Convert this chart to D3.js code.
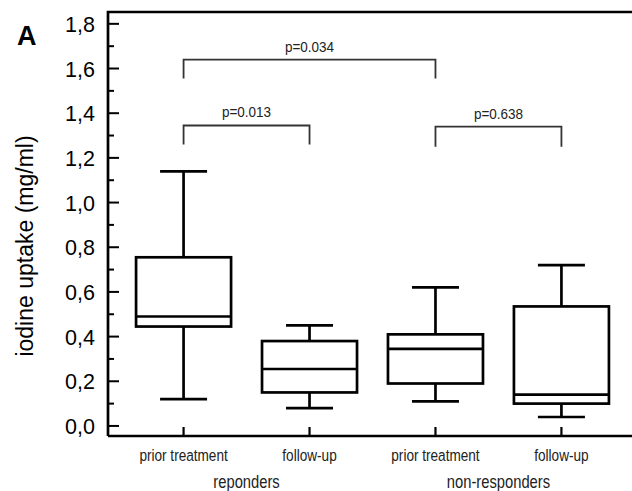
<!DOCTYPE html>
<html>
<head>
<meta charset="utf-8">
<script src="https://cdn.jsdelivr.net/npm/d3@7"></script>
<style>
  body { margin: 0; background: #fff; }
  svg { display: block; font-family: Arial, "Liberation Sans", sans-serif; }
</style>
</head>
<body>
<svg width="632" height="491"></svg>
<script>
// box plot data
let categories = ["prior treatment", "follow-up", "prior treatment", "follow-up"];
let groups = ["reponders", "non-responders"];
let whiskerLow = [0.12, 0.08, 0.11, 0.04];
let q1 = [0.445, 0.15, 0.19, 0.10];
let median = [0.49, 0.255, 0.345, 0.14];
let q3 = [0.755, 0.38, 0.41, 0.535];
let whiskerHigh = [1.14, 0.45, 0.62, 0.72];

let yTicks = [0, 0.2, 0.4, 0.6, 0.8, 1.0, 1.2, 1.4, 1.6, 1.8];

// significance brackets: from box, to box, height, drop, label
let brackets = [
  { from: 0, to: 2, y: 1.64, drop: 1.555, label: "p=0.034" },
  { from: 0, to: 1, y: 1.345, drop: 1.26, label: "p=0.013" },
  { from: 2, to: 3, y: 1.34, drop: 1.25, label: "p=0.638" }
];

let svg = d3.select("svg");
let mLeft = 108, mRight = 637, mTop = 12, mBottom = 436;

let xScale = d3.scaleLinear().domain([-0.6, 3.6]).range([mLeft, mRight]);
let yScale = d3.scaleLinear().domain([-0.045, 1.853]).range([mBottom, mTop]);

let boxW = 95, capW = 47;

// condensed text: regular font squeezed horizontally
function narrowText(sel, x, y, size, sx) {
  sel.append("g")
    .attr("transform", (d, i) => `translate(${x(d, i)},${y(d, i)}) scale(${sx},1)`)
    .append("text")
    .attr("text-anchor", "middle").attr("font-size", size)
    .attr("fill", "#222")
    .text(d => d.label || d);
}

// frame
svg.append("path")
  .attr("d", `M${mLeft},${mBottom}H${mRight}M${mLeft},${mBottom}V${mTop}H${mRight}`)
  .attr("fill", "none").attr("stroke", "#000").attr("stroke-width", 2.7);

// y ticks (inward) with minor ticks
let minor = d3.range(0, 19).map(d => d / 10);
svg.selectAll(".minor").data(minor).enter().append("line")
  .attr("x1", mLeft).attr("x2", d => Math.round(d * 10) % 2 === 0 ? mLeft + 11 : mLeft + 6)
  .attr("y1", d => yScale(d)).attr("y2", d => yScale(d))
  .attr("stroke", "#000").attr("stroke-width", 2);

svg.selectAll(".ylab").data(yTicks).enter().append("text")
  .attr("x", 95).attr("y", d => yScale(d) + 8)
  .attr("text-anchor", "end").attr("font-size", 21.5)
  .text(d => d3.format(".1f")(d).replace(".", ","));

// x ticks (inward)
svg.selectAll(".xtick").data(categories).enter().append("line")
  .attr("x1", (d, i) => xScale(i)).attr("x2", (d, i) => xScale(i))
  .attr("y1", mBottom).attr("y2", mBottom - 9)
  .attr("stroke", "#000").attr("stroke-width", 2.2);

narrowText(svg.selectAll(".xlab").data(categories).enter(),
  (d, i) => xScale(i), () => 461, 17, 0.8);

narrowText(svg.selectAll(".glab").data(groups).enter(),
  (d, i) => (xScale(2 * i) + xScale(2 * i + 1)) / 2, () => 488, 18, 0.82);

// y title and panel letter
svg.append("text")
  .attr("transform", `translate(33,${246}) rotate(-90)`)
  .attr("text-anchor", "middle").attr("font-size", 23)
  .text("iodine uptake (mg/ml)");

svg.append("text")
  .attr("x", 17).attr("y", 45)
  .attr("font-size", 27).attr("font-weight", "bold")
  .text("A");

// boxes
let boxes = svg.selectAll(".box").data(categories).enter().append("g")
  .attr("stroke", "#000").attr("stroke-width", 2.7).attr("fill", "none");

boxes.append("line")
  .attr("x1", (d, i) => xScale(i)).attr("x2", (d, i) => xScale(i))
  .attr("y1", (d, i) => yScale(whiskerLow[i])).attr("y2", (d, i) => yScale(whiskerHigh[i]));

boxes.append("rect")
  .attr("x", (d, i) => xScale(i) - boxW / 2).attr("width", boxW)
  .attr("y", (d, i) => yScale(q3[i]))
  .attr("height", (d, i) => yScale(q1[i]) - yScale(q3[i]))
  .attr("fill", "#fff");

boxes.append("line")
  .attr("x1", (d, i) => xScale(i) - boxW / 2).attr("x2", (d, i) => xScale(i) + boxW / 2)
  .attr("y1", (d, i) => yScale(median[i])).attr("y2", (d, i) => yScale(median[i]));

boxes.append("line")
  .attr("x1", (d, i) => xScale(i) - capW / 2).attr("x2", (d, i) => xScale(i) + capW / 2)
  .attr("y1", (d, i) => yScale(whiskerHigh[i])).attr("y2", (d, i) => yScale(whiskerHigh[i]));

boxes.append("line")
  .attr("x1", (d, i) => xScale(i) - capW / 2).attr("x2", (d, i) => xScale(i) + capW / 2)
  .attr("y1", (d, i) => yScale(whiskerLow[i])).attr("y2", (d, i) => yScale(whiskerLow[i]));

// brackets
let br = svg.selectAll(".br").data(brackets).enter();
br.append("path")
  .attr("d", d => `M${xScale(d.from)},${yScale(d.drop)}V${yScale(d.y)}H${xScale(d.to)}V${yScale(d.drop)}`)
  .attr("fill", "none").attr("stroke", "#333").attr("stroke-width", 1.8);
narrowText(br, d => (xScale(d.from) + xScale(d.to)) / 2, d => yScale(d.y) - 8, 15, 0.9);
</script>
</body>
</html>
